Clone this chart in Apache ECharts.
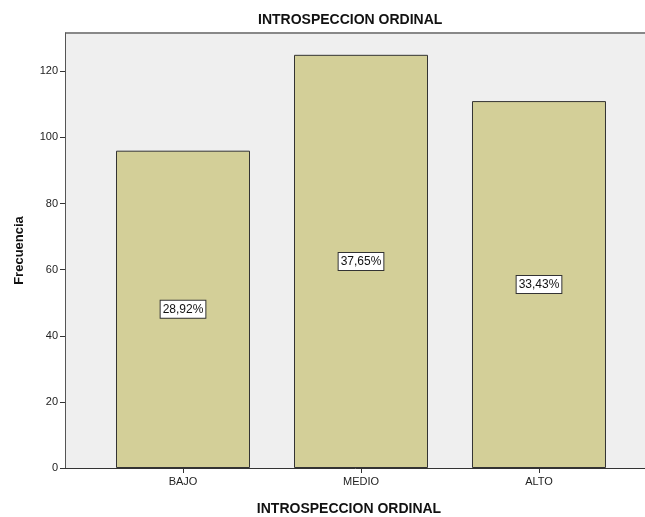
<!DOCTYPE html>
<html><head><meta charset="utf-8">
<script src="https://cdn.jsdelivr.net/npm/echarts@6/dist/echarts.min.js"></script>
<style>html,body{margin:0;padding:0;background:#fff}#c{width:645px;height:517px}</style>
</head><body><div id="c"></div>
<script>
const categories = ['BAJO', 'MEDIO', 'ALTO'];
const frecuencia = [96, 125, 111];
const porcentajes = ['28,92%', '37,65%', '33,43%'];
const yTicks = [0, 20, 40, 60, 80, 100, 120];

const chart = echarts.init(document.getElementById('c'));
const font = 'Liberation Sans, Arial, sans-serif';
chart.setOption({
  animation: false,
  title: {
    text: 'INTROSPECCION ORDINAL', left: 258, top: 13, padding: 0,
    textStyle: { fontFamily: font, fontSize: 14, fontWeight: 'bold', color: '#111' }
  },
  grid: { left: 65, top: 33, width: 592, height: 435, show: true, backgroundColor: '#efefef', borderWidth: 0, outerBoundsMode: 'none', containLabel: false },
  xAxis: {
    type: 'value', min: -0.663, max: 2.663,
    name: 'INTROSPECCION ORDINAL', nameLocation: 'middle', nameGap: 34,
    nameTextStyle: { fontFamily: font, fontSize: 14, fontWeight: 'bold', color: '#111', padding: [0, 0, 0, -24] },
    axisLine: { show: true, onZero: false, lineStyle: { color: '#333', width: 1 } },
    axisTick: { show: true, length: 5, customValues: [0, 1, 2], lineStyle: { color: '#333' } },
    axisLabel: { customValues: [0, 1, 2], formatter: v => categories[Math.round(v)] || '', fontFamily: font, fontSize: 11, color: '#222', margin: 8 },
    splitLine: { show: false }
  },
  yAxis: {
    type: 'value', min: 0, max: 131.6,
    name: 'Frecuencia', nameLocation: 'middle', nameGap: 39,
    nameTextStyle: { fontFamily: font, fontSize: 13, fontWeight: 'bold', color: '#111' },
    axisLine: { show: true, onZero: false, lineStyle: { color: '#555', width: 1 } },
    axisTick: { show: true, length: 5, customValues: yTicks, lineStyle: { color: '#333' } },
    axisLabel: { customValues: yTicks, fontFamily: font, fontSize: 11, color: '#222', margin: 7 },
    splitLine: { show: false }
  },
  graphic: [{ type: 'line', shape: { x1: 65, y1: 33, x2: 645, y2: 33 }, style: { stroke: '#888', lineWidth: 2 } }],
  series: [{
    type: 'bar', barWidth: 134,
    data: frecuencia.map((v, i) => [i, v]),
    itemStyle: { color: '#d3cf98', borderColor: '#333', borderWidth: 1 },
    label: {
      show: true, position: 'inside',
      formatter: p => porcentajes[p.dataIndex],
      fontFamily: font, fontSize: 12, color: '#111',
      backgroundColor: '#fff', borderColor: '#333', borderWidth: 1, padding: [3, 2, 2, 2]
    }
  }]
});
</script></body></html>
